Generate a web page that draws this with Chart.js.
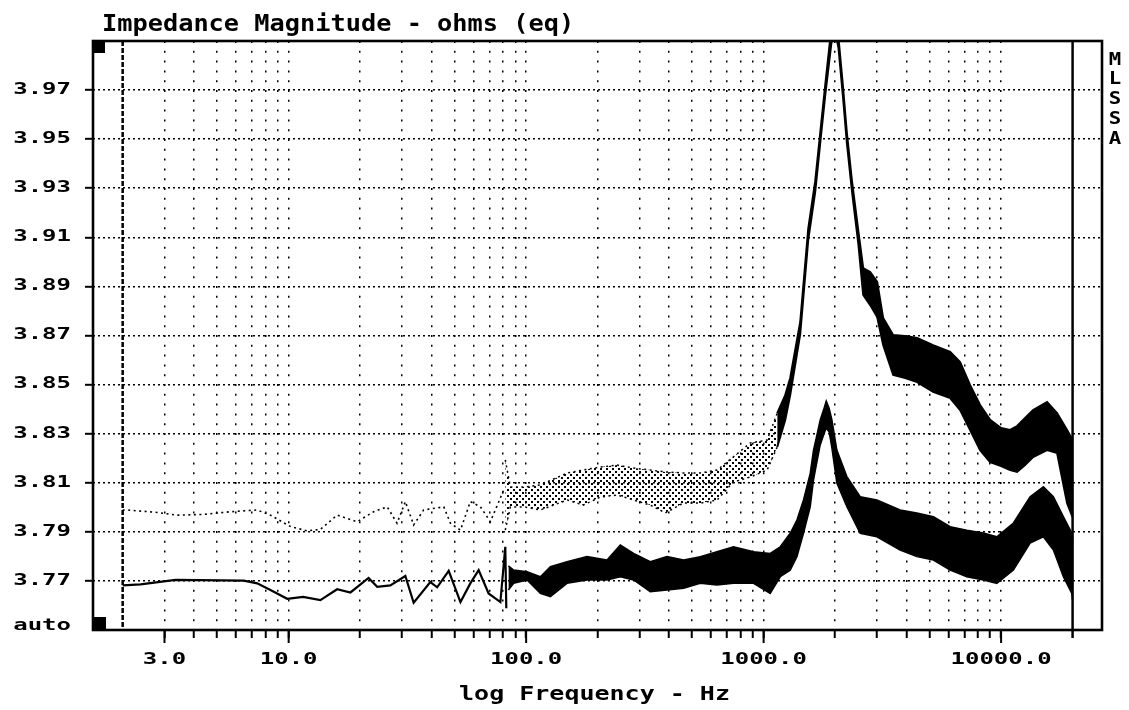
<!DOCTYPE html>
<html>
<head>
<meta charset="utf-8">
<style>html,body{margin:0;padding:0;background:#fff}canvas{display:block}</style>
<script src="https://cdn.jsdelivr.net/npm/chart.js@4.4.1/dist/chart.umd.min.js"></script>
</head>
<body>
<canvas id="c" width="1129" height="710"></canvas>
<script>
// ---------- text ----------
const chartTitle = 'Impedance Magnitude - ohms (eq)';
const xAxisTitle = 'log Frequency - Hz';
const sideLetters = ['M', 'L', 'S', 'S', 'A'];

// ---------- axes ----------
const xMin = 1.5, xMax = 26600;
const yMin = 3.75, yMax = 3.99;
const xGridValues = [3,4,5,6,7,8,9,10,20,30,40,50,60,70,80,90,100,200,300,400,500,600,700,800,900,1000,2000,3000,4000,5000,6000,7000,8000,9000,10000];
const xLabelValues = [3, 10, 100, 1000, 10000];
const xLabelTexts = ['3.0', '10.0', '100.0', '1000.0', '10000.0'];
const yTickValues = [3.75, 3.77, 3.79, 3.81, 3.83, 3.85, 3.87, 3.89, 3.91, 3.93, 3.95, 3.97];
const yTickTexts = ['auto', '3.77', '3.79', '3.81', '3.83', '3.85', '3.87', '3.89', '3.91', '3.93', '3.95', '3.97'];
const markerLowHz = 2, markerHighHz = 20000;

// ---------- lower trace (Hz, ohms) ----------
const lowerLineFreq = [2.0, 2.38, 3.34, 6.47, 7.37, 8.38, 9.86, 11.5, 13.6, 16.0, 18.2, 21.7, 23.6, 26.8, 31.0, 33.6, 39.5, 42.2, 47.2, 52.9, 58.2, 63.1, 69.5, 77.9, 81.7, 82.5];
const lowerLineOhm = [3.7682, 3.7686, 3.7704, 3.7701, 3.7690, 3.7663, 3.7627, 3.7635, 3.7622, 3.7666, 3.7653, 3.7712, 3.7676, 3.7682, 3.7720, 3.7611, 3.7695, 3.7674, 3.7741, 3.7614, 3.7690, 3.7744, 3.7649, 3.7614, 3.7839, 3.7589];
const lowerBandFreq = [84.2, 88.6, 100.9, 114.8, 126.5, 148.6, 180.4, 219.0, 249.2, 283.5, 333.2, 391.8, 460.3, 541.1, 635.8, 747.0, 907.0, 1066, 1175, 1294, 1381, 1472, 1571, 1622, 1676, 1731, 1787, 1835, 1888, 1939, 2034, 2242, 2551, 2999, 3757, 4418, 5189, 6102, 7172, 8424, 9592, 11268, 13248, 15068, 16602, 18289, 19845, 20000];
const lowerBandHi = [3.7761, 3.7744, 3.7737, 3.7717, 3.7758, 3.7778, 3.7799, 3.7785, 3.7846, 3.7812, 3.7778, 3.7799, 3.7785, 3.7799, 3.7819, 3.7839, 3.7819, 3.7812, 3.7839, 3.7894, 3.7948, 3.8030, 3.8138, 3.8233, 3.8294, 3.8356, 3.8396, 3.8433, 3.8404, 3.8356, 3.8233, 3.8125, 3.8043, 3.8030, 3.7989, 3.7977, 3.7962, 3.7921, 3.7907, 3.7895, 3.7880, 3.7936, 3.8043, 3.8084, 3.8043, 3.7962, 3.7895, 3.7867];
const lowerBandLo = [3.7663, 3.7690, 3.7704, 3.7649, 3.7636, 3.7690, 3.7704, 3.7704, 3.7717, 3.7704, 3.7656, 3.7663, 3.7670, 3.7690, 3.7683, 3.7690, 3.7690, 3.7649, 3.7717, 3.7744, 3.7799, 3.7894, 3.8002, 3.8111, 3.8184, 3.8254, 3.8294, 3.8323, 3.8307, 3.8241, 3.8099, 3.8002, 3.7894, 3.7880, 3.7826, 3.7799, 3.7785, 3.7744, 3.7717, 3.7704, 3.7690, 3.7744, 3.7854, 3.7880, 3.7826, 3.7717, 3.7649, 3.7622];

// ---------- upper trace (Hz, ohms) ----------
const upperLineFreq = [2.0, 2.09, 2.80, 3.39, 4.39, 5.69, 7.37, 8.38, 10.2, 11.96, 13.6, 16.0, 19.4, 22.8, 26.0, 28.6, 31.0, 33.6, 37.0, 45.0, 48.0, 52.9, 58.2, 64.2, 70.7, 80.4];
const upperLineOhm = [3.7989, 3.7989, 3.7979, 3.7968, 3.7971, 3.7982, 3.7989, 3.7968, 3.7921, 3.7904, 3.7910, 3.7968, 3.7941, 3.7982, 3.8002, 3.7935, 3.8023, 3.7928, 3.7989, 3.8002, 3.7935, 3.7907, 3.8023, 3.8002, 3.7941, 3.8070];
const upperCloudFreq = [81.7, 85.8, 99.2, 114.8, 149.1, 174.1, 205.3, 242.0, 282.7, 333.2, 385.5, 458.8, 541.1, 637.7, 745, 878, 1035, 1141];
const upperCloudHi = [3.8193, 3.8083, 3.8083, 3.8091, 3.8140, 3.8152, 3.8164, 3.8172, 3.8160, 3.8152, 3.8144, 3.8140, 3.8140, 3.8152, 3.8205, 3.8262, 3.8274, 3.8384];
const upperCloudLo = [3.7907, 3.8001, 3.8001, 3.7989, 3.8030, 3.8009, 3.8042, 3.8050, 3.8030, 3.8009, 3.7977, 3.8017, 3.8017, 3.8030, 3.8103, 3.8123, 3.8152, 3.8246];
const upperBandFreq = [1141, 1233, 1294, 1426, 1541, 1649, 1731, 1816, 1925, 1982, 2067, 2157, 2242, 2352, 2508, 2626, 2810, 3008, 3187, 3512, 3945, 4431, 5174, 6102, 6721, 7406, 8159, 8990, 10000, 10911, 11677, 12618, 13636, 15616, 17208, 18960, 20000];
const upperBandHi = [3.8384, 3.8457, 3.8527, 3.8755, 3.9134, 3.9329, 3.9525, 3.9717, 3.9945, 4.0050, 3.9912, 3.9717, 3.9525, 3.9334, 3.9122, 3.8975, 3.8959, 3.8918, 3.8771, 3.8702, 3.8698, 3.8690, 3.8661, 3.8633, 3.8592, 3.8498, 3.8417, 3.8356, 3.8323, 3.8315, 3.8331, 3.8364, 3.8396, 3.8429, 3.8384, 3.8315, 3.8274];
const upperBandLo = [3.8246, 3.8356, 3.8457, 3.8706, 3.9089, 3.9285, 3.9484, 3.9676, 3.9884, 3.9960, 3.9871, 3.9676, 3.9484, 3.9293, 3.9069, 3.8865, 3.8824, 3.8775, 3.8661, 3.8539, 3.8527, 3.8510, 3.8470, 3.8445, 3.8396, 3.8315, 3.8233, 3.8184, 3.8168, 3.8152, 3.8144, 3.8172, 3.8205, 3.8233, 3.8221, 3.8017, 3.7960];

const pts = (fs, vs) => fs.map((f, i) => ({ x: f, y: vs[i] }));

// sparse dotted fill for the scattered part of the upper trace
const pc = document.createElement('canvas');
pc.width = 6; pc.height = 6;
const pcx = pc.getContext('2d');
pcx.fillStyle = '#000';
pcx.fillRect(0, 0, 2, 2);
pcx.fillRect(3, 3, 2, 2);
const dotPattern = document.getElementById('c').getContext('2d').createPattern(pc, 'repeat');

const datasets = [
  { label: 'lower', data: pts(lowerLineFreq, lowerLineOhm), borderColor: '#000', borderWidth: 2.2, fill: false },
  { label: 'lowerHi', data: pts(lowerBandFreq, lowerBandHi), borderColor: '#000', borderWidth: 1.5, fill: false },
  { label: 'lowerLo', data: pts(lowerBandFreq, lowerBandLo), borderColor: '#000', borderWidth: 1.5, fill: '-1', backgroundColor: '#000' },
  { label: 'upper', data: pts(upperLineFreq, upperLineOhm), borderColor: '#000', borderWidth: 1.6, borderDash: [2, 3.5], fill: false },
  { label: 'upperCloudHi', data: pts(upperCloudFreq, upperCloudHi), borderColor: '#000', borderWidth: 1.5, borderDash: [2, 3.5], fill: false },
  { label: 'upperCloudLo', data: pts(upperCloudFreq, upperCloudLo), borderColor: '#000', borderWidth: 1.5, borderDash: [2, 3.5], fill: '-1', backgroundColor: dotPattern },
  { label: 'upperHi', data: pts(upperBandFreq, upperBandHi), borderColor: '#000', borderWidth: 2, fill: false },
  { label: 'upperLo', data: pts(upperBandFreq, upperBandLo), borderColor: '#000', borderWidth: 2, fill: '-1', backgroundColor: '#000' }
];

function sText(ctx, txt, x, y, font, sx, align, base) {
  ctx.save();
  ctx.font = font;
  ctx.textAlign = align;
  ctx.textBaseline = base;
  ctx.fillStyle = '#000';
  ctx.translate(x, y);
  ctx.scale(sx, 1);
  ctx.fillText(txt, 0, 0);
  ctx.restore();
}

const tickFont = 'bold 15px "DejaVu Sans Mono"';
const decor = {
  id: 'decor',
  afterDraw(chart) {
    const { ctx, chartArea: a, scales } = chart;
    const xs = scales.x, ys = scales.y;
    ctx.save();
    ctx.strokeStyle = '#000';
    ctx.fillStyle = '#000';
    // markers
    const m1 = xs.getPixelForValue(markerLowHz);
    ctx.lineWidth = 2.5;
    ctx.setLineDash([5, 2]);
    ctx.beginPath(); ctx.moveTo(m1, a.top); ctx.lineTo(m1, a.bottom); ctx.stroke();
    ctx.setLineDash([]);
    const m2 = xs.getPixelForValue(markerHighHz);
    ctx.beginPath(); ctx.moveTo(m2, a.top); ctx.lineTo(m2, a.bottom + 8); ctx.stroke();
    // frame
    ctx.lineWidth = 2.6;
    ctx.strokeRect(a.left, a.top, a.right - a.left, a.bottom - a.top);
    // corner squares
    ctx.fillRect(a.left, a.top, 12, 12);
    ctx.fillRect(a.left, a.bottom - 13, 13, 13);
    // long ticks at labelled decades
    ctx.lineWidth = 2;
    xLabelValues.forEach(v => {
      const px = xs.getPixelForValue(v);
      ctx.beginPath(); ctx.moveTo(px, a.bottom); ctx.lineTo(px, a.bottom + 13); ctx.stroke();
    });
    ctx.restore();
    // x labels
    xLabelValues.forEach((v, i) => sText(ctx, xLabelTexts[i], xs.getPixelForValue(v), 660, tickFont, 1.6, 'center', 'middle'));
    // y labels
    yTickValues.forEach((v, i) => {
      if (i === 0) sText(ctx, yTickTexts[i], 71, a.bottom, tickFont, 1.6, 'right', 'alphabetic');
      else sText(ctx, yTickTexts[i], 71, ys.getPixelForValue(v), tickFont, 1.6, 'right', 'middle');
    });
    // titles
    sText(ctx, chartTitle, 102, 31, 'bold 23px "DejaVu Sans Mono"', 1.1, 'left', 'alphabetic');
    sText(ctx, xAxisTitle, (a.left + a.right) / 2 - 3, 700, 'bold 20px "DejaVu Sans Mono"', 1.25, 'center', 'alphabetic');
    sideLetters.forEach((l, i) => sText(ctx, l, 1115, 60 + 19.8 * i, 'bold 18px "DejaVu Sans Mono"', 1.15, 'center', 'middle'));
  }
};

new Chart(document.getElementById('c'), {
  type: 'line',
  data: { datasets },
  options: {
    responsive: false,
    animation: false,
    devicePixelRatio: 1,
    layout: { padding: { left: 0, right: 27, top: 41, bottom: 0 } },
    plugins: { legend: { display: false }, tooltip: { enabled: false } },
    elements: { point: { radius: 0 }, line: { tension: 0 } },
    scales: {
      x: {
        type: 'logarithmic', min: xMin, max: xMax, position: 'bottom',
        afterBuildTicks: s => { s.ticks = xGridValues.map(v => ({ value: v })); },
        afterFit: s => { s.height = 80; },
        ticks: { display: false, autoSkip: false },
        grid: { color: '#000', lineWidth: 1.5, drawTicks: true, tickLength: 8, tickWidth: 2, tickColor: '#000' },
        border: { display: false, dash: [2, 7.8] }
      },
      y: {
        type: 'linear', min: yMin, max: yMax, position: 'left',
        afterBuildTicks: s => { s.ticks = yTickValues.map(v => ({ value: v })); },
        afterFit: s => { s.width = 93; },
        ticks: { display: false },
        grid: {
          color: c => (c.index === 0 ? 'rgba(0,0,0,0)' : '#000'),
          tickColor: c => (c.index === 0 ? 'rgba(0,0,0,0)' : '#000'),
          lineWidth: 1.6, drawTicks: true, tickLength: 8, tickWidth: 2
        },
        border: { display: false, dash: [2, 3] }
      }
    }
  },
  plugins: [decor]
});
</script>
</body>
</html>
